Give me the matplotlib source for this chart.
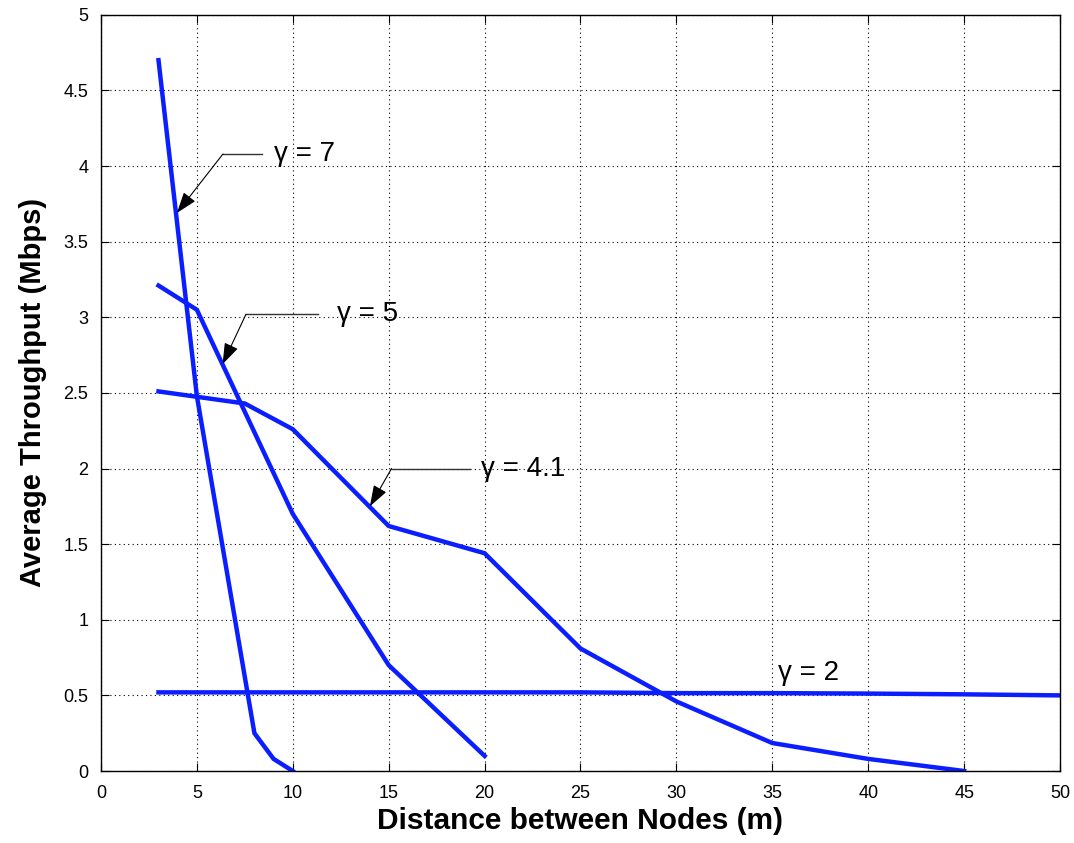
import matplotlib
matplotlib.use("Agg")
import matplotlib.pyplot as plt
import numpy as np

plt.rcParams['font.family'] = ['Liberation Sans', 'DejaVu Sans']

# datos
x_g7 = [3, 5, 8, 9, 10]
y_g7 = [4.7, 2.48, 0.25, 0.08, 0.0]

x_g5 = [3, 5, 10, 15, 20]
y_g5 = [3.21, 3.05, 1.70, 0.70, 0.10]

x_g41 = [3, 7.5, 10, 15, 20, 25, 30, 35, 40, 45]
y_g41 = [2.51, 2.43, 2.26, 1.62, 1.44, 0.81, 0.46, 0.185, 0.08, 0.0]

x_g2 = [3, 5, 10, 15, 20, 25, 30, 35, 40, 45, 50]
y_g2 = [0.52, 0.52, 0.52, 0.52, 0.52, 0.52, 0.515, 0.515, 0.512, 0.507, 0.50]

azul = '#0a1eff'

fig = plt.figure(figsize=(10.74, 8.43), dpi=100)
ax = fig.add_axes([0.094, 0.0854, 0.893, 0.897])

for xs, ys in [(x_g7, y_g7), (x_g5, y_g5), (x_g41, y_g41), (x_g2, y_g2)]:
    ax.plot(xs, ys, color=azul, lw=3.2, solid_joinstyle='miter')

ax.set_xlim(0, 50)
ax.set_ylim(0, 5)
ax.set_xticks(np.arange(0, 51, 5))
ax.set_yticks(np.arange(0, 5.01, 0.5))
ax.set_yticklabels(['0', '0.5', '1', '1.5', '2', '2.5', '3', '3.5', '4', '4.5', '5'])
ax.tick_params(direction='in', top=True, right=True, labelsize=13, length=6)
ax.tick_params(axis='x', pad=10)
ax.tick_params(axis='y', pad=9)
ax.grid(True, color='black', linestyle=(0, (1, 3)), linewidth=0.8)
for s in ax.spines.values():
    s.set_linewidth(1.0)

ax.set_xlabel('Distance between Nodes (m)', fontsize=21.5, fontweight='bold', labelpad=4)
ax.set_ylabel('Average Throughput (Mbps)', fontsize=21, fontweight='bold', labelpad=12)

# anotaciones tipo matlab (linea horizontal + flecha)
def etiqueta(texto, tx, ty, x0, x1, punta):
    ax.text(tx, ty, texto, fontsize=20, va='center', ha='left')
    ax.plot([x0, x1], [ty, ty], color='#333333', lw=1.0)
    ax.annotate('', xy=punta, xytext=(x1, ty),
                arrowprops=dict(arrowstyle='-|>,head_length=1.3,head_width=0.45',
                                color='black', lw=0.8, shrinkA=0, shrinkB=0))

etiqueta('γ = 7', 9.0, 4.08, 8.4, 6.36, (3.96, 3.69))
etiqueta('γ = 5', 12.3, 3.02, 11.3, 7.56, (6.34, 2.69))
etiqueta('γ = 4.1', 19.8, 2.0, 19.24, 15.15, (14.02, 1.75))
ax.text(35.3, 0.65, 'γ = 2', fontsize=20, va='center', ha='left')

fig.savefig('out.png', dpi=100)
